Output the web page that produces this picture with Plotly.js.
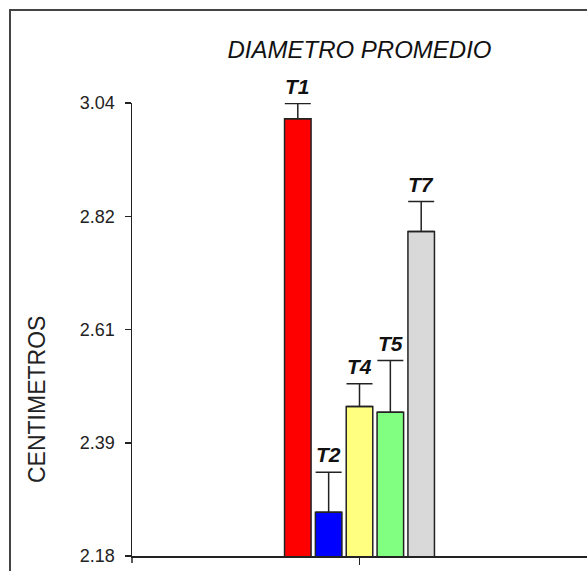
<!DOCTYPE html>
<html>
<head>
<meta charset="utf-8">
<script src="https://cdn.plot.ly/plotly-3.0.1.min.js"></script>
<style>html,body{margin:0;padding:0;background:#fff;}#chart{width:587px;height:571px;}</style>
</head>
<body>
<div id="chart"></div>
<script>
const categories = ['T1', 'T2', 'T4', 'T5', 'T7'];
const means = [3.010, 2.263, 2.464, 2.453, 2.796];
const errors = [0.029, 0.076, 0.043, 0.098, 0.057];
const colors = ['#FF0000', '#0000FF', '#FFFF80', '#80FF80', '#D9D9D9'];
const yTickValues = [2.18, 2.395, 2.61, 2.825, 3.04];
const yTickLabels = ['2.18', '2.39', '2.61', '2.82', '3.04'];
const groupName = [''];

const W = 587, H = 571;
const margin = {l: 132, r: 0, t: 103, b: 15};
const plotW = W - margin.l - margin.r;
const plotH = H - margin.t - margin.b;
const bargap = 0.661;
const bargroupgap = 0.14;
const font = 'Arial, "Liberation Sans", sans-serif';

const traces = categories.map((c, i) => ({
  type: 'bar',
  name: c,
  x: groupName,
  y: [means[i]],
  marker: {color: colors[i], line: {color: '#222', width: 1.5}},
  error_y: {type: 'data', array: [errors[i]], arrayminus: [0], symmetric: false,
            color: '#222', thickness: 1.5, width: 13},
  showlegend: false,
  hoverinfo: 'skip'
}));

const slot = plotW * (1 - bargap) / categories.length;
const annotations = categories.map((c, i) => ({
  x: 0, xref: 'x', y: means[i] + errors[i], yref: 'y',
  text: '<b><i>' + c + '</i></b>',
  showarrow: false, yanchor: 'bottom', xanchor: 'center',
  xshift: (i - (categories.length - 1) / 2) * slot, yshift: 4,
  font: {family: font, size: 21, color: '#111'}
}));
annotations.push({
  text: 'CENTIMETROS', textangle: -90, showarrow: false,
  xref: 'paper', yref: 'paper',
  x: (37 - margin.l) / plotW, y: (H - margin.b - 400) / plotH,
  xanchor: 'center', yanchor: 'middle',
  font: {family: font, size: 23, color: '#222'}
});

const layout = {
  width: W, height: H, margin: margin,
  paper_bgcolor: '#fff', plot_bgcolor: '#fff',
  bargap: bargap, bargroupgap: bargroupgap, barmode: 'group',
  title: {text: '<i>DIAMETRO PROMEDIO</i>', font: {family: font, size: 24, color: '#111'},
          x: 0.5, xref: 'paper', y: 1 - 50 / H, yref: 'container', yanchor: 'middle'},
  xaxis: {type: 'category', showline: true, linecolor: '#222', linewidth: 1.5,
          ticks: 'outside', ticklen: 7, tickcolor: '#222', tickwidth: 1.5,
          showticklabels: false, showgrid: false, zeroline: false, fixedrange: true},
  yaxis: {range: [2.18, 3.04], tickvals: yTickValues, ticktext: yTickLabels,
          showline: true, linecolor: '#222', linewidth: 1.5,
          ticks: 'outside', ticklen: 6, tickcolor: '#222', tickwidth: 1.5,
          ticklabelstandoff: 6,
          tickfont: {family: font, size: 18, color: '#222'},
          showgrid: false, zeroline: false, fixedrange: true},
  annotations: annotations,
  shapes: [
    {type: 'rect', xref: 'paper', yref: 'paper',
     x0: (10 - margin.l) / plotW, x1: 1.2,
     y0: -0.2, y1: (H - margin.b - 10) / plotH,
     line: {color: '#444', width: 2}, layer: 'below'},
    {type: 'line', xref: 'paper', yref: 'paper', x0: 0, x1: 0,
     y0: 0, y1: -7 / plotH, line: {color: '#222', width: 1.5}}
  ]
};

Plotly.newPlot('chart', traces, layout, {displayModeBar: false, staticPlot: true});
</script>
</body>
</html>
